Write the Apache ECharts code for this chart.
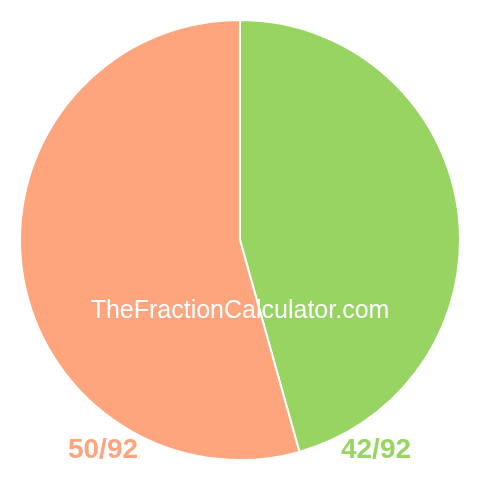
<!DOCTYPE html>
<html>
<head>
<meta charset="utf-8">
<script src="https://cdn.jsdelivr.net/npm/echarts@6/dist/echarts.min.js"></script>
<style>
  html, body { margin: 0; padding: 0; background: #fff; }
  #chart { width: 480px; height: 480px; }
</style>
</head>
<body>
<div id="chart"></div>
<script>
// slices, clockwise from 12 o'clock
const names = ['42/92', '50/92'];
const values = [42, 50];
const colors = ['#98d462', '#fea57d'];
const watermark = 'TheFractionCalculator.com';

var myChart = echarts.init(document.getElementById('chart'));
myChart.setOption({
  animation: false,
  series: [{
    type: 'pie',
    center: [240, 240],
    radius: [0, 220],
    startAngle: 90,
    clockwise: true,
    label: { show: false },
    labelLine: { show: false },
    emphasis: { disabled: true },
    itemStyle: { borderColor: '#fff', borderWidth: 2 },
    data: names.map((n, i) => ({ name: n, value: values[i], itemStyle: { color: colors[i] } }))
  }],
  graphic: {
    elements: [
      {
        type: 'text', x: 240, y: 311, z: 100,
        style: { text: watermark, fill: '#fff', font: '25px "Liberation Sans", Arial, sans-serif', align: 'center', verticalAlign: 'middle' }
      },
      {
        type: 'text', x: 103, y: 450, z: 100,
        style: { text: names[1], fill: colors[1], font: 'bold 28px "Liberation Sans", Arial, sans-serif', align: 'center', verticalAlign: 'middle' }
      },
      {
        type: 'text', x: 376, y: 450, z: 100,
        style: { text: names[0], fill: colors[0], font: 'bold 28px "Liberation Sans", Arial, sans-serif', align: 'center', verticalAlign: 'middle' }
      }
    ]
  }
});
</script>
</body>
</html>
